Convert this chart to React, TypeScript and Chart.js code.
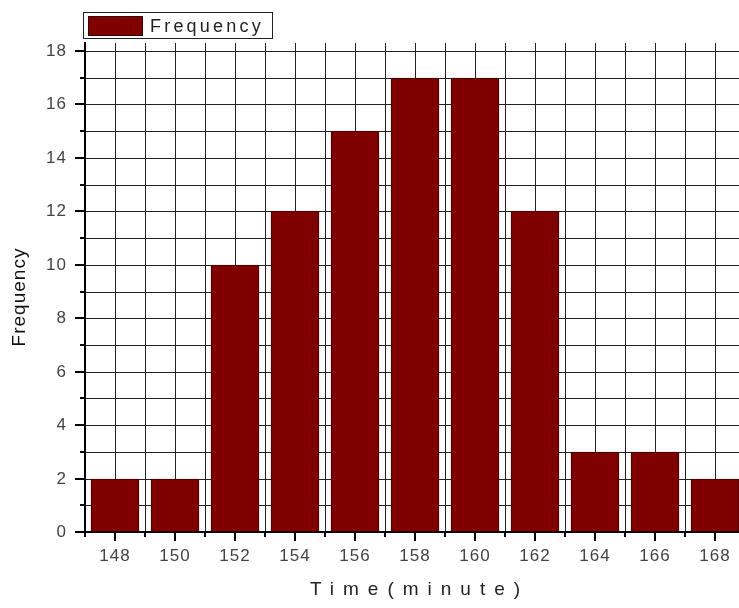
import { useEffect, useRef } from "react";
import { Chart, registerables } from "chart.js";

Chart.register(...registerables);

// Histogram of completion times
const timeMinutes = [148, 150, 152, 154, 156, 158, 160, 162, 164, 166, 168];
const frequency = [2, 2, 10, 12, 15, 17, 17, 12, 3, 3, 2];

// Labelled (major) tick values; every integer in between gets a minor tick and a grid line
const xLabelled = [148, 150, 152, 154, 156, 158, 160, 162, 164, 166, 168];
const yLabelled = [0, 2, 4, 6, 8, 10, 12, 14, 16, 18];

const seriesName = "Frequency";
const xTitle = "Time(minute)";
const yTitle = "Frequency";

const X_MIN = 147;
const X_MAX = 169;
const Y_MIN = 0;
const Y_MAX = 18.3;

const FONT = "'Liberation Sans', Arial, sans-serif";
const BAR_FILL = "#800000";
const BAR_EDGE = "#3a0000";

function integerTicks(min: number, max: number) {
  const out: { value: number }[] = [];
  for (let v = Math.ceil(min); v <= Math.floor(max); v++) out.push({ value: v });
  return out;
}

// Slightly spaced tick labels: spacing is on while the scales draw, off for the bars
const labelSpacing = {
  id: "labelSpacing",
  beforeDraw(chart: any) {
    (chart.ctx as any).letterSpacing = "1px";
  },
  beforeDatasetsDraw(chart: any) {
    (chart.ctx as any).letterSpacing = "0px";
  },
};

// Tick marks (long on labelled values, short otherwise), legend box and axis titles
const decorations = {
  id: "decorations",
  afterDraw(chart: any) {
    const { ctx, chartArea, scales } = chart;
    const x = scales.x;
    const y = scales.y;
    ctx.save();

    ctx.strokeStyle = "#000";
    ctx.lineWidth = 2;
    ctx.beginPath();
    for (const t of x.ticks) {
      const px = Math.round(x.getPixelForValue(t.value));
      const len = xLabelled.includes(t.value) ? 9 : 5;
      ctx.moveTo(px, chartArea.bottom);
      ctx.lineTo(px, chartArea.bottom + len);
    }
    for (const t of y.ticks) {
      const py = Math.round(y.getPixelForValue(t.value));
      const len = yLabelled.includes(t.value) ? 10 : 5;
      ctx.moveTo(chartArea.left, py);
      ctx.lineTo(chartArea.left - len, py);
    }
    ctx.stroke();

    // legend
    ctx.fillStyle = "#fff";
    ctx.fillRect(84, 13, 188, 25);
    ctx.strokeStyle = "#222";
    ctx.lineWidth = 1;
    ctx.strokeRect(83.5, 12.5, 189, 26);
    ctx.fillStyle = BAR_FILL;
    ctx.fillRect(88, 16, 55, 20);
    ctx.strokeStyle = BAR_EDGE;
    ctx.strokeRect(88.5, 16.5, 54, 19);
    ctx.fillStyle = "#222";
    ctx.font = `18px ${FONT}`;
    (ctx as any).letterSpacing = "3.2px";
    ctx.textAlign = "left";
    ctx.textBaseline = "alphabetic";
    ctx.fillText(seriesName, 150, 32);

    // x axis title
    ctx.textBaseline = "middle";
    ctx.font = `19px ${FONT}`;
    (ctx as any).letterSpacing = "9px";
    const w = ctx.measureText(xTitle).width - 9;
    const cx = (chartArea.left + chartArea.right) / 2;
    ctx.fillText(xTitle, cx - w / 2, 590);

    // y axis title
    ctx.fillStyle = "#111";
    (ctx as any).letterSpacing = "1px";
    ctx.font = `19px ${FONT}`;
    ctx.translate(20, 297);
    ctx.rotate(-Math.PI / 2);
    ctx.textAlign = "center";
    ctx.fillText(yTitle, 0, 0);

    ctx.restore();
  },
};

export default function App() {
  const canvasRef = useRef<HTMLCanvasElement | null>(null);

  useEffect(() => {
    const canvas = canvasRef.current;
    if (!canvas) return;
    const chart = new Chart(canvas, {
      type: "bar",
      data: {
        datasets: [
          {
            label: seriesName,
            data: timeMinutes.map((t, i) => ({ x: t, y: frequency[i] })),
            backgroundColor: BAR_FILL,
            borderColor: BAR_EDGE,
            borderWidth: 1,
            barThickness: 48,
          },
        ],
      },
      options: {
        animation: false,
        responsive: false,
        devicePixelRatio: 1,
        layout: { padding: { left: 0, top: 43, right: 15, bottom: 0 } },
        plugins: {
          legend: { display: false },
          tooltip: { enabled: false },
        },
        scales: {
          x: {
            type: "linear",
            min: X_MIN,
            max: X_MAX,
            offset: false,
            alignToPixels: true,
            afterBuildTicks: (s: any) => {
              s.ticks = integerTicks(X_MIN, X_MAX);
            },
            afterFit: (s: any) => {
              s.height = 76;
            },
            grid: {
              offset: false,
              color: "#222",
              lineWidth: 1,
              drawTicks: true,
              tickLength: 10,
              tickColor: "rgba(0,0,0,0)",
            },
            border: { color: "#000", width: 2 },
            ticks: {
              autoSkip: false,
              maxRotation: 0,
              padding: 4,
              color: "#444",
              font: { family: FONT, size: 17 },
              callback: (v: any) => (xLabelled.includes(Number(v)) ? String(v) : ""),
            },
          },
          y: {
            type: "linear",
            min: Y_MIN,
            max: Y_MAX,
            alignToPixels: true,
            afterBuildTicks: (s: any) => {
              s.ticks = integerTicks(Y_MIN, Y_MAX);
            },
            afterFit: (s: any) => {
              s.width = 85;
            },
            grid: {
              color: "#222",
              lineWidth: 1,
              drawTicks: true,
              tickLength: 10,
              tickColor: "rgba(0,0,0,0)",
            },
            border: { color: "#000", width: 2 },
            ticks: {
              autoSkip: false,
              padding: 8,
              color: "#444",
              font: { family: FONT, size: 17 },
              callback: (v: any) => (yLabelled.includes(Number(v)) ? String(v) : ""),
            },
          },
        },
      },
      plugins: [labelSpacing, decorations],
    } as any);
    return () => chart.destroy();
  }, []);

  return (
    <div
      style={{
        position: "absolute",
        left: 0,
        top: 0,
        width: 739,
        height: 608,
        overflow: "hidden",
        background: "#fff",
      }}
    >
      <canvas ref={canvasRef} width={760} height={608} style={{ display: "block" }} />
    </div>
  );
}
